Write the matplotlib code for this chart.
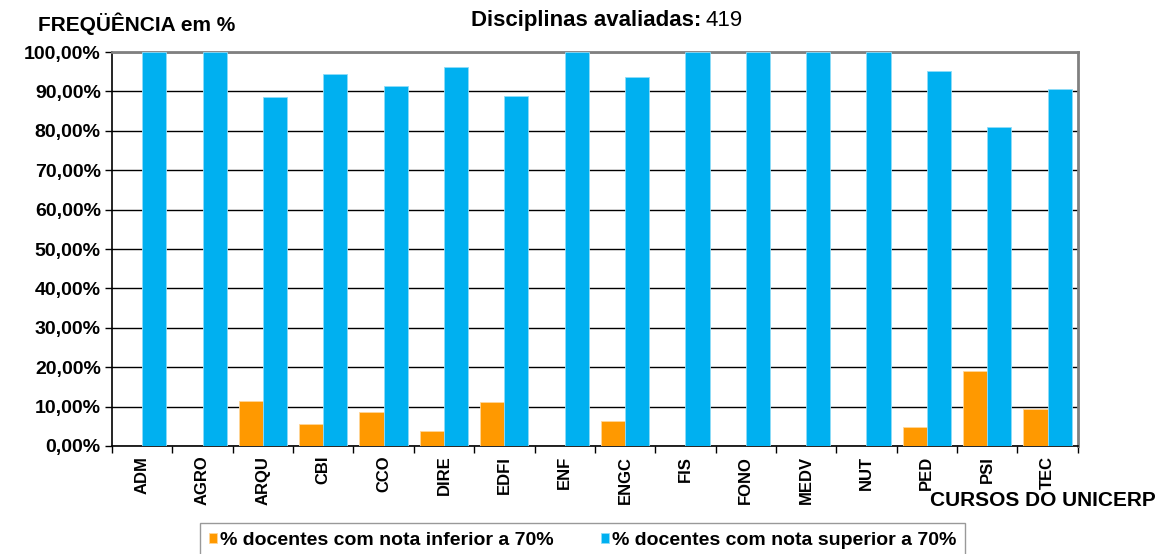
import matplotlib.pyplot as plt
import numpy as np

plt.rcParams["font.family"] = ["Liberation Sans", "DejaVu Sans"]

cursos = ["ADM", "AGRO", "ARQU", "CBI", "CCO", "DIRE", "EDFI", "ENF",
          "ENGC", "FIS", "FONO", "MEDV", "NUT", "PED", "PSI", "TEC"]
inferior = [0, 0, 11.5, 5.6, 8.6, 3.8, 11.1, 0, 6.25, 0, 0, 0, 0, 4.9, 19.05, 9.5]
superior = [100, 100, 88.5, 94.4, 91.4, 96.2, 88.9, 100, 93.75, 100, 100, 100, 100, 95.1, 80.95, 90.5]
y_ticks = np.arange(0, 101, 10)

orange = "#FF9900"
blue = "#00B0F0"

fig = plt.figure(figsize=(11.58, 5.54), dpi=100)
ax = fig.add_axes([0.0967, 0.195, 0.834, 0.711])

x = np.arange(len(cursos))
w = 0.4
ax.bar(x - w / 2, inferior, w, color=orange, edgecolor="#ffd699", linewidth=0.6,
       label="% docentes com nota inferior a 70%", zorder=3)
ax.bar(x + w / 2, superior, w, color=blue, edgecolor="#8fdcf8", linewidth=0.6,
       label="% docentes com nota superior a 70%", zorder=3)

ax.set_xlim(-0.5, len(cursos) - 0.5)
ax.set_ylim(0, 100)
ax.set_yticks(y_ticks)
ax.set_yticklabels([f"{v:.2f}%".replace(".", ",") for v in y_ticks],
                   fontsize=14, fontweight="bold")
ax.yaxis.grid(True, color="black", linewidth=1.0, zorder=0)

ax.set_xticks(x)
ax.set_xticklabels(cursos, rotation=90, fontsize=12, fontweight="bold")
ax.set_xticks(np.arange(-0.5, len(cursos)), minor=True)
ax.tick_params(axis="x", which="major", length=0, pad=7)
ax.tick_params(axis="x", which="minor", length=5, width=1, color="black")
ax.tick_params(axis="y", length=5, width=1, color="black", pad=3)

ax.spines["left"].set_color("black")
ax.spines["bottom"].set_color("black")
ax.spines["left"].set_linewidth(1.2)
ax.spines["bottom"].set_linewidth(1.2)
for side in ["top", "right"]:
    ax.spines[side].set_color("#808080")
    ax.spines[side].set_linewidth(2)

fig.text(0.033, 0.957, "FREQÜÊNCIA em %", fontsize=15, fontweight="bold",
         ha="left", va="center")
fig.text(0.606, 0.963, "Disciplinas avaliadas:", fontsize=16, fontweight="bold",
         ha="right", va="center")
fig.text(0.609, 0.963, "419", fontsize=16, ha="left", va="center")
fig.text(0.998, 0.096, "CURSOS DO UNICERP", fontsize=15, fontweight="bold",
         ha="right", va="center")

fig.legend(loc="upper left", bbox_to_anchor=(0.1727, 0.056),
           ncol=2, frameon=True, fancybox=False,
           edgecolor="#808080", prop={"weight": "bold", "size": 14},
           handlelength=0.45, handleheight=0.45, handletextpad=0.15,
           borderpad=0.45, borderaxespad=0, columnspacing=2.4)

fig.savefig("out.png", dpi=100)
